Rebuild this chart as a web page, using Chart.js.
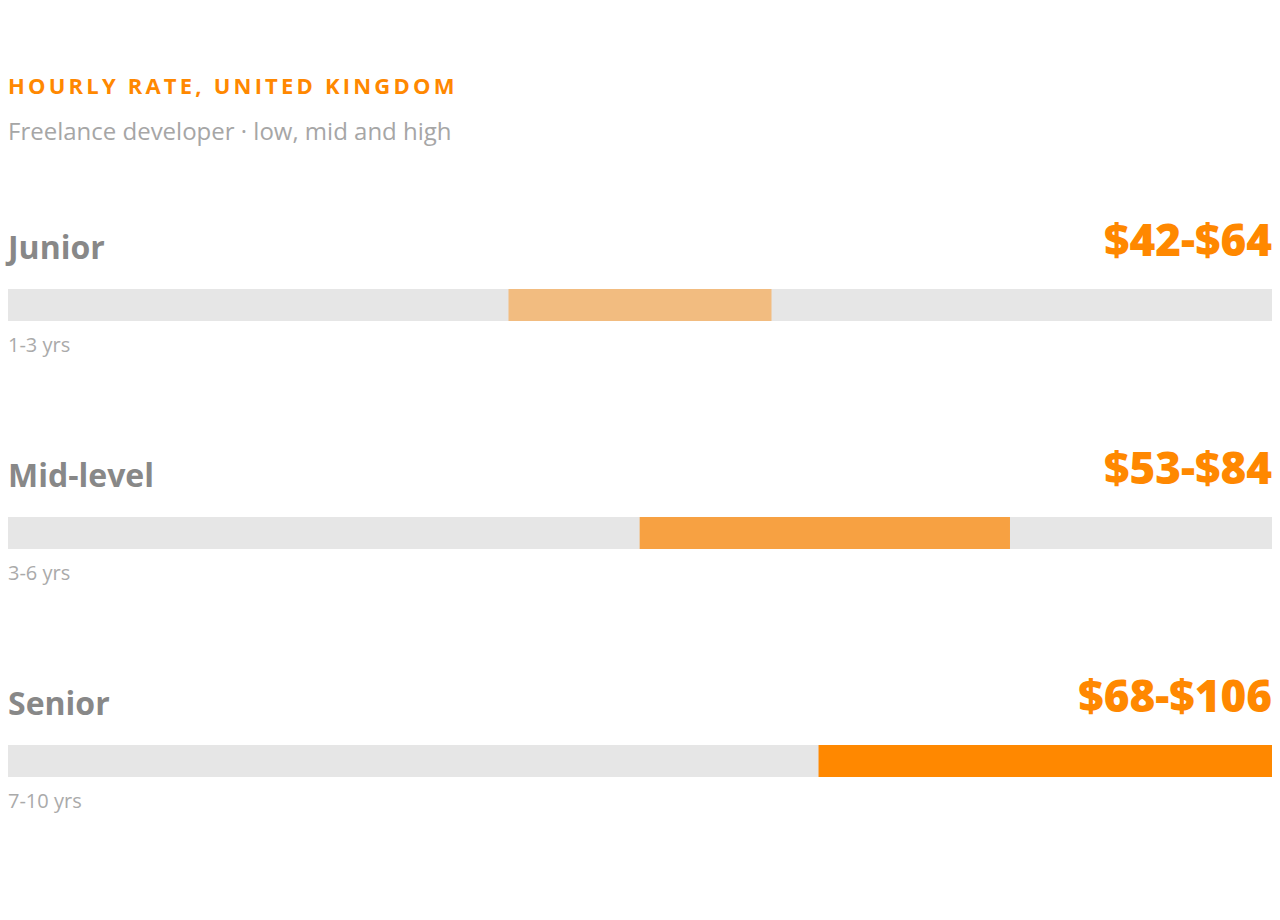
<!DOCTYPE html>
<html><head><meta charset="utf-8">
<script src="https://cdn.jsdelivr.net/npm/chart.js@4"></script>
<style>
body{margin:0;width:1280px;height:920px;background:#fff;font-family:"Open Sans",sans-serif;position:relative;overflow:hidden}
.t{position:absolute;left:8px;top:70px;font-size:22px;font-weight:700;letter-spacing:3.2px;color:#ff8800}
.s{position:absolute;left:8px;top:114px;font-size:24px;color:#a6a6a6}
.row{position:absolute;left:8px;width:1264px;height:140px}
.lab{position:absolute;left:0;top:0;font-size:32px;font-weight:700;color:#888}
.val{position:absolute;right:0;top:-16px;font-size:44px;font-weight:800;color:#ff8800}
.yrs{position:absolute;left:0;top:106px;font-size:20px;color:#aaa}
.cw{position:absolute;left:0;top:64px;width:1264px;height:32px}
</style></head><body>
<div class="t">HOURLY RATE, UNITED KINGDOM</div>
<div class="s">Freelance developer · low, mid and high</div>
<div id="rows"></div>
<script>
const categories=["Junior","Mid-level","Senior"];
const experience=["1-3 yrs","3-6 yrs","7-10 yrs"];
const lowRates=[42,53,68];
const highRates=[64,84,106];
const colors=["#f2bc80","#f7a142","#ff8800"];
const axisMax=106;
const tops=[225,453,681];
const rows=document.getElementById('rows');
categories.forEach((c,i)=>{
 const r=document.createElement('div');r.className='row';r.style.top=tops[i]+'px';
 r.innerHTML=`<div class="lab">${c}</div><div class="val">$${lowRates[i]}-$${highRates[i]}</div><div class="yrs">${experience[i]}</div><div class="cw"><canvas></canvas></div>`;
 rows.appendChild(r);
 new Chart(r.querySelector('canvas'),{type:'bar',
  data:{labels:[c],datasets:[
   {data:[[lowRates[i],highRates[i]]],backgroundColor:colors[i],barPercentage:1,categoryPercentage:1,order:0},
   {data:[[0,axisMax]],backgroundColor:'#e6e6e6',barPercentage:1,categoryPercentage:1,order:1}]},
  options:{indexAxis:'y',responsive:true,maintainAspectRatio:false,animation:false,
   layout:{padding:0},
   plugins:{legend:{display:false},tooltip:{enabled:false}},
   scales:{x:{min:0,max:axisMax,display:false},y:{display:false,stacked:true}}}});
});
</script>
</body></html>
